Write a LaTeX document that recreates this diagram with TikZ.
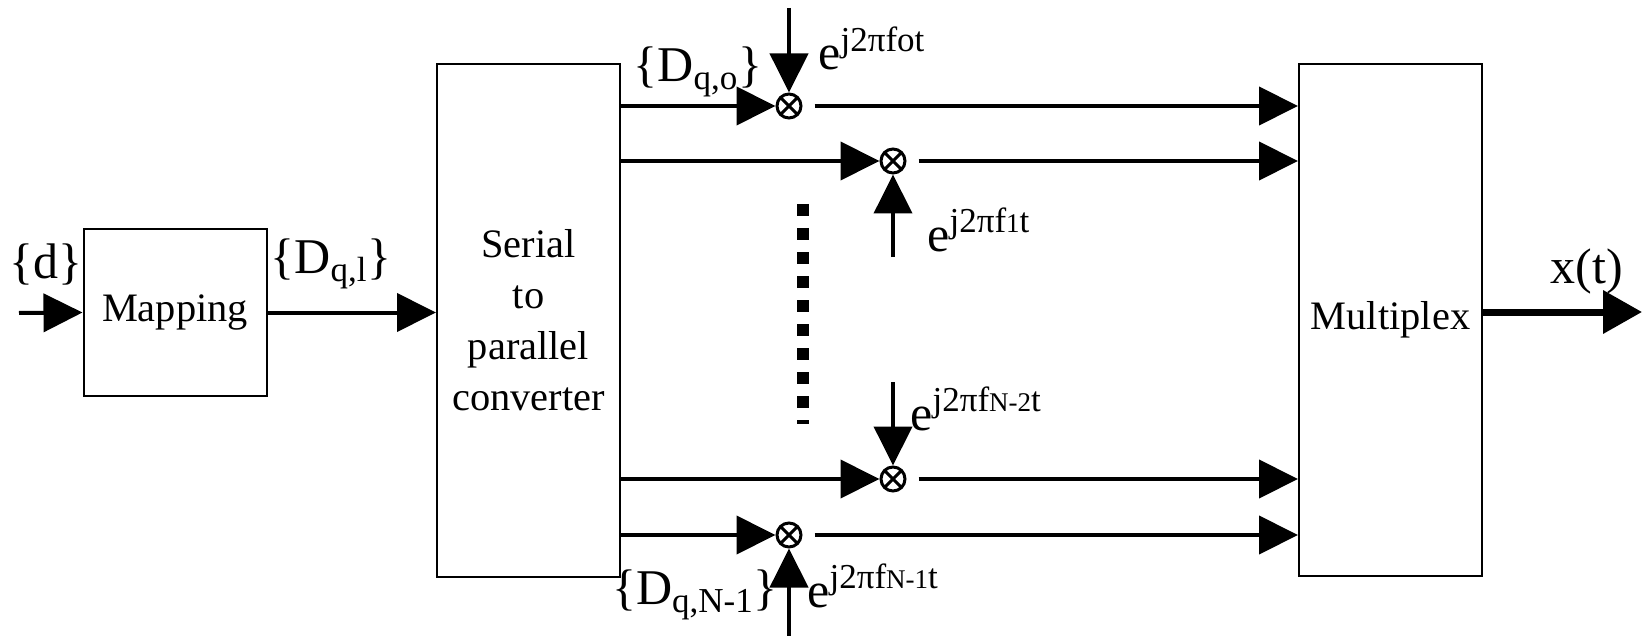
\documentclass[tikz,border=0pt]{standalone}
\usepackage{fontspec}
\setmainfont{Liberation Serif}
\usetikzlibrary{calc,positioning,arrows.meta}
\tikzset{
  blockbox/.style={draw,line width=1pt,minimum width=91.5pt,inner sep=0pt,align=center,font=\fontsize{20.2}{25.5}\selectfont},
  sigline/.style={line width=2pt,-{Triangle[length=19.5pt,width=19pt]}},
  mixnode/.style={draw,circle,line width=1.5pt,minimum size=12pt,inner sep=0pt,
    path picture={\draw[line width=1.5pt] (path picture bounding box.south west) -- (path picture bounding box.north east)
      (path picture bounding box.north west) -- (path picture bounding box.south east);}},
  lblfont/.style={font=\fontsize{25}{29}\selectfont},
  carfont/.style={font=\fontsize{25}{29}\selectfont,anchor=base west,inner sep=0pt},
}
\newcommand{\carrier}[1]{e\textsuperscript{j2πf#1t}}
\newcommand{\idx}[1]{{\fontsize{13.5}{13.5}\selectfont #1}}

\begin{document}
\begin{tikzpicture}[x=0.5pt,y=-0.5pt]
        \useasboundingbox (0,0) rectangle (1642,636);
        % blocks
        \node[blockbox,minimum height=83.5pt] (map) at (175,312.5) {Mapping};
        \node[blockbox,minimum height=256.5pt] (s2p) at (528.5,320.5) {Serial\\to\\parallel\\converter};
        \node[blockbox,minimum height=256pt] (mux) at (1390.5,320) {Multiplex};
        % mixers
        \node[mixnode] (mixA) at (789,106) {};
        \node[mixnode] (mixB) at (893,161) {};
        \node[mixnode] (mixC) at (893,479) {};
        \node[mixnode] (mixD) at (789,535) {};
        \coordinate (din) at (19,313);
        \coordinate (oscA) at (789,8);
        \coordinate (oscB) at (893,257);
        \coordinate (oscC) at (893,382);
        \coordinate (oscD) at (789,636);
        \coordinate (xout) at (1642,312);
        % signal path
        \draw[sigline] (din) -- (map.west);
        \draw[sigline] (map.east) -- (map.east -| s2p.west);
        \foreach \m in {mixA,mixB,mixC,mixD}{
          \draw[sigline] (s2p.east |- \m) -- (\m.west);
          \draw[sigline] ([xshift=6pt]\m.east) -- (\m -| mux.west);}
        \foreach \o/\m in {oscA/mixA,oscB/mixB,oscC/mixC,oscD/mixD}
          \draw[sigline] (\o) -- (\m);
        \draw[sigline,line width=3.5pt,-{Triangle[length=19.5pt,width=21pt]}] (mux.east |- xout) -- (xout);
        \draw[line width=6pt,dash pattern=on 6pt off 6pt] (803,204) -- (803,424);
        % labels
        \node[lblfont] (dlab) at (46,264) {\{d\}};
        \node[lblfont] (Dlab) at (331,264) {\{D\textsubscript{q,l}\}};
        \node[lblfont] (Dolab) at (698,72) {\{D\textsubscript{q,o}\}};
        \node[lblfont] (Dnlab) at (695,595) {\{D\textsubscript{q,N-1}\}};
        \node[lblfont] (xlab) at (1587,271) {x(t)};
        \node[carfont] (carA) at (818,70) {\carrier{o}};
        \node[carfont] (carB) at (927,251) {\carrier{\idx{1}}};
        \node[carfont] (carC) at (910,430) {\carrier{\idx{N-2}}};
        \node[carfont] (carD) at (807,607) {\carrier{\idx{N-1}}};
      \end{tikzpicture}
\end{document}
